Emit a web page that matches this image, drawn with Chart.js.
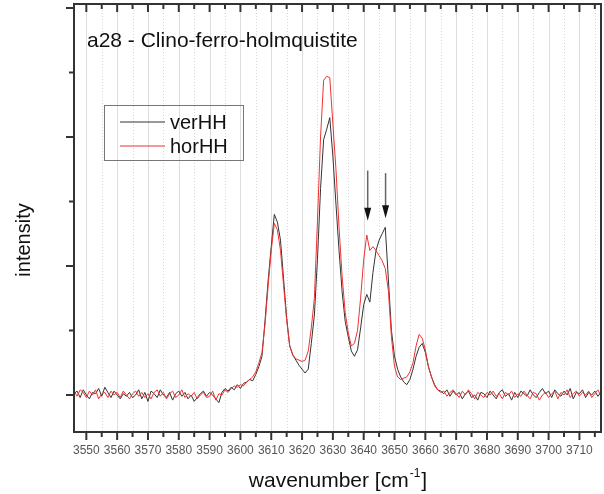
<!DOCTYPE html>
<html lang="en">
<head>
<meta charset="UTF-8">
<title>a28 - Clino-ferro-holmquistite</title>
<script src="https://cdn.jsdelivr.net/npm/chart.js"></script>
<style>
  html, body { margin: 0; padding: 0; background: #fff; }
  #wrap { width: 604px; height: 494px; }
</style>
</head>
<body>
<div id="wrap"><canvas id="spectrum" width="604" height="494"></canvas></div>
<script>
// spectrum sampled every 1 cm-1, starting here
const firstWavenumber = 3546;

const verHH = [
  0.01, 0.03, -0.02, 0.04,
  0.00, -0.03, 0.02, 0.01, 0.05, -0.01, 0.06, 0.02, -0.02, 0.03,
  0.00, -0.03, 0.01, -0.01, 0.02, -0.02, 0.00, 0.04, -0.03, 0.02,
  -0.05, 0.03, 0.01, -0.02, 0.04, 0.00, -0.02, 0.02, -0.04, 0.01,
  0.03, -0.01, 0.02, -0.03, 0.00, -0.05, -0.02, 0.01, 0.03, -0.01,
  0.02, 0.00, -0.03, -0.06, 0.02, 0.05, 0.03, 0.06, 0.04, 0.08,
  0.05, 0.09, 0.10, 0.12, 0.11, 0.16, 0.22, 0.30, 0.58, 0.89,
  1.15, 1.40, 1.34, 1.20, 0.90, 0.60, 0.38, 0.31, 0.27, 0.23,
  0.20, 0.17, 0.20, 0.40, 0.62, 1.05, 1.60, 1.98, 2.06, 2.15,
  1.85, 1.48, 1.12, 0.80, 0.57, 0.45, 0.34, 0.30, 0.35, 0.52,
  0.70, 0.78, 0.72, 0.95, 1.12, 1.20, 1.25, 1.30, 0.90, 0.50,
  0.30, 0.20, 0.14, 0.10, 0.08, 0.12, 0.20, 0.30, 0.37, 0.40,
  0.33, 0.22, 0.14, 0.08, 0.04, 0.03, 0.01, 0.04, -0.01, 0.03,
  0.00, 0.02, -0.03, 0.01, 0.03, -0.02, 0.00, -0.04, 0.02, 0.01,
  -0.02, 0.03, 0.00, -0.03, 0.02, 0.04, -0.01, 0.01, -0.04, 0.02,
  -0.02, 0.03, 0.01, -0.01, 0.04, 0.00, -0.02, 0.02, 0.05, 0.01,
  0.03, -0.02, 0.04, 0.01, -0.01, 0.03, 0.00, 0.05, -0.03, 0.02,
  0.01, 0.04, -0.02, 0.02, 0.00, 0.03, -0.01, 0.02
];

const horHH = [
  0.03, -0.01, 0.04, 0.02,
  -0.02, 0.03, 0.00, 0.04, -0.03, 0.01, 0.02, -0.02, 0.03, 0.00,
  0.02, -0.02, 0.03, 0.00, -0.03, 0.01, 0.03, -0.01, 0.02, -0.02,
  0.01, -0.03, 0.02, 0.04, -0.01, 0.02, -0.03, 0.01, 0.03, -0.02,
  0.00, 0.04, -0.02, 0.01, -0.01, 0.02, -0.03, 0.00, 0.02, -0.02,
  -0.01, 0.03, -0.04, 0.01, 0.00, 0.04, 0.02, 0.05, 0.07, 0.06,
  0.08, 0.07, 0.10, 0.12, 0.14, 0.18, 0.25, 0.33, 0.55, 0.85,
  1.12, 1.33, 1.28, 1.12, 0.85, 0.58, 0.38, 0.31, 0.28, 0.27,
  0.26, 0.27, 0.34, 0.52, 0.75, 1.35, 2.00, 2.44, 2.47, 2.46,
  2.10, 1.75, 1.30, 0.92, 0.64, 0.48, 0.38, 0.40, 0.50, 0.75,
  1.05, 1.24, 1.12, 1.15, 1.12, 1.08, 1.04, 0.98, 0.81, 0.45,
  0.22, 0.14, 0.12, 0.13, 0.14, 0.18, 0.25, 0.38, 0.47, 0.44,
  0.35, 0.22, 0.14, 0.07, 0.04, 0.02, 0.03, -0.01, 0.02, 0.04,
  0.01, -0.02, 0.03, 0.00, 0.04, 0.01, -0.03, 0.02, 0.00, -0.02,
  0.02, 0.00, 0.03, -0.01, 0.01, -0.03, 0.02, 0.00, 0.03, -0.02,
  0.01, -0.01, 0.03, 0.00, -0.03, 0.02, 0.01, -0.04, 0.00, 0.02,
  -0.02, 0.01, 0.03, -0.03, 0.02, 0.00, 0.04, -0.02, 0.01, 0.03,
  -0.01, 0.02, 0.00, 0.03, -0.02, 0.01, 0.04, -0.01
];

const seriesLabels = ['verHH', 'horHH'];
const seriesColors = ['#333333', '#f03232'];

const xTicks = [3550, 3560, 3570, 3580, 3590, 3600, 3610, 3620, 3630,
                3640, 3650, 3660, 3670, 3680, 3690, 3700, 3710];
const yTicks = [0, 0.5, 1, 1.5, 2, 2.5, 3];

// the two arrows over the 3641 / 3647 bands
const arrowX = [3641.3, 3647.1];
const arrowFrom = [1.74, 1.72];
const arrowTo = [1.35, 1.37];

const titleText = 'a28 - Clino-ferro-holmquistite';

function toPoints(values) {
    return values.map((v, i) => ({ x: firstWavenumber + i, y: v }));
}

function line(ctx, x1, y1, x2, y2) {
    ctx.beginPath();
    ctx.moveTo(x1, y1);
    ctx.lineTo(x2, y2);
    ctx.stroke();
}

const FONT = '"Liberation Sans", Arial, sans-serif';

const frame = {
    id: 'frame',
    beforeDatasetsDraw(chart) {
        const { ctx, chartArea: a, scales: { x } } = chart;
        ctx.save();
        ctx.lineWidth = 1;
        // minor grid (dotted) every 5, major (solid) every 10
        ctx.strokeStyle = '#d6d6d6';
        ctx.setLineDash([1, 2]);
        xTicks.map(v => v + 5).forEach(v => {
            if (v > x.max) return;
            const px = Math.round(x.getPixelForValue(v)) + 0.5;
            line(ctx, px, a.top, px, a.bottom);
        });
        ctx.setLineDash([]);
        ctx.strokeStyle = '#dedede';
        xTicks.forEach(v => {
            const px = Math.round(x.getPixelForValue(v)) + 0.5;
            line(ctx, px, a.top, px, a.bottom);
        });
        ctx.restore();
    },
    afterDatasetsDraw(chart) {
        const { ctx, chartArea: a, scales: { x, y } } = chart;
        ctx.save();

        // frame
        ctx.strokeStyle = '#333';
        ctx.lineWidth = 2;
        ctx.strokeRect(a.left, a.top, a.right - a.left, a.bottom - a.top);

        // x ticks, bottom outward and top inward
        ctx.lineWidth = 2;
        xTicks.forEach(v => {
            const px = x.getPixelForValue(v);
            line(ctx, px, a.bottom, px, a.bottom + 8);
            line(ctx, px, a.top, px, a.top + 8);
            const m = v + 5;
            if (m <= x.max) {
                const pm = x.getPixelForValue(m);
                line(ctx, pm, a.bottom, pm, a.bottom + 5);
                line(ctx, pm, a.top, pm, a.top + 5);
            }
        });
        // y ticks, left outward
        yTicks.forEach(v => {
            const py = y.getPixelForValue(v);
            const len = Number.isInteger(v) ? 8 : 5;
            line(ctx, a.left - len, py, a.left, py);
        });

        // arrows
        arrowX.forEach((v, i) => {
            const px = x.getPixelForValue(v);
            const y1 = y.getPixelForValue(arrowFrom[i]);
            const y2 = y.getPixelForValue(arrowTo[i]);
            ctx.strokeStyle = '#666';
            ctx.lineWidth = 1.5;
            line(ctx, px, y1, px, y2 - 10);
            ctx.fillStyle = '#111';
            ctx.beginPath();
            ctx.moveTo(px, y2);
            ctx.lineTo(px - 3.5, y2 - 13);
            ctx.lineTo(px + 3.5, y2 - 13);
            ctx.closePath();
            ctx.fill();
        });

        // title inside plot
        ctx.fillStyle = '#111';
        ctx.font = '21px ' + FONT;
        ctx.textAlign = 'left';
        ctx.textBaseline = 'alphabetic';
        ctx.fillText(titleText, 87, 47);

        // legend box
        ctx.strokeStyle = '#777';
        ctx.lineWidth = 1;
        ctx.strokeRect(104.5, 105.5, 139, 55);
        const rows = [122, 146];
        ctx.font = '20px ' + FONT;
        seriesLabels.forEach((lab, i) => {
            ctx.strokeStyle = seriesColors[i];
            ctx.lineWidth = 1;
            line(ctx, 120, rows[i], 165, rows[i]);
            ctx.fillStyle = '#111';
            ctx.fillText(lab, 170, rows[i] + 7);
        });

        // y axis title
        ctx.save();
        ctx.translate(24.5, 240);
        ctx.rotate(-Math.PI / 2);
        ctx.textAlign = 'center';
        ctx.textBaseline = 'middle';
        ctx.font = '20px ' + FONT;
        ctx.fillText('intensity', 0, 0);
        ctx.restore();

        // x axis title with superscript
        const main = 'wavenumber [cm';
        const sup = '-1';
        const close = ']';
        ctx.font = '21px ' + FONT;
        const w1 = ctx.measureText(main).width;
        const w3 = ctx.measureText(close).width;
        ctx.font = '12px ' + FONT;
        const w2 = ctx.measureText(sup).width;
        const startX = 338 - (w1 + w2 + w3 + 2) / 2;
        const base = 487;
        ctx.textAlign = 'left';
        ctx.font = '21px ' + FONT;
        ctx.fillText(main, startX, base);
        ctx.font = '12px ' + FONT;
        ctx.fillText(sup, startX + w1 + 1, base - 10);
        ctx.font = '21px ' + FONT;
        ctx.fillText(close, startX + w1 + w2 + 2, base);

        ctx.restore();
    }
};

const ctx = document.getElementById('spectrum').getContext('2d');

new Chart(ctx, {
    type: 'line',
    data: {
        datasets: [
            {
                label: seriesLabels[0],
                data: toPoints(verHH),
                borderColor: seriesColors[0],
                borderWidth: 1,
                pointRadius: 0,
                tension: 0,
                order: 2
            },
            {
                label: seriesLabels[1],
                data: toPoints(horHH),
                borderColor: seriesColors[1],
                borderWidth: 1,
                pointRadius: 0,
                tension: 0,
                order: 1
            }
        ]
    },
    options: {
        responsive: false,
        animation: false,
        devicePixelRatio: 1,
        events: [],
        layout: { padding: { top: 4, right: 3, left: 0, bottom: 0 } },
        plugins: {
            legend: { display: false },
            tooltip: { enabled: false }
        },
        scales: {
            x: {
                type: 'linear',
                min: 3546,
                max: 3717,
                grid: { display: false, drawTicks: false },
                border: { display: false },
                afterBuildTicks: (scale) => {
                    scale.ticks = xTicks.map(v => ({ value: v }));
                },
                afterFit: (scale) => { scale.height = 62; },
                ticks: {
                    autoSkip: false,
                    maxRotation: 0,
                    padding: 11,
                    color: '#555',
                    font: { family: FONT, size: 12 },
                    callback: (v) => String(v)
                }
            },
            y: {
                min: -0.287,
                max: 3.031,
                grid: { display: false, drawTicks: false },
                border: { display: false },
                ticks: { display: false },
                afterFit: (scale) => { scale.width = 74; }
            }
        }
    },
    plugins: [frame]
});
</script>
</body>
</html>
